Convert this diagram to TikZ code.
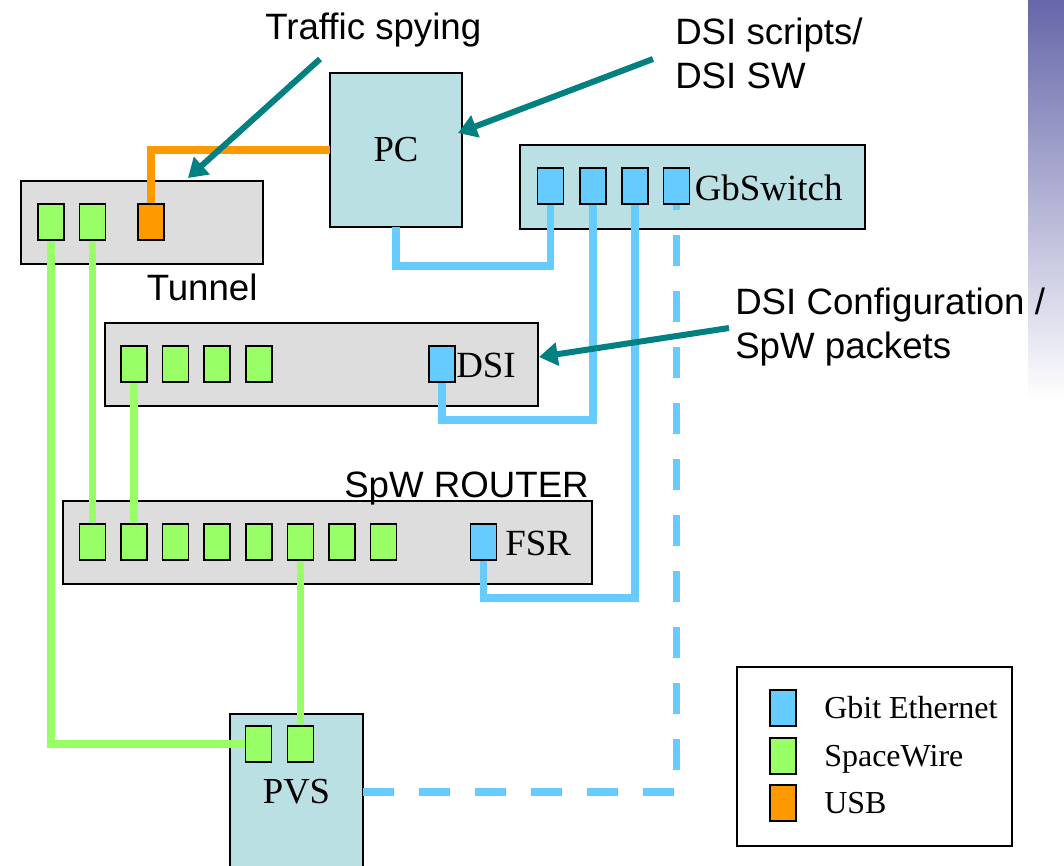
\documentclass[tikz,border=0pt]{standalone}
\usepackage{fontspec}
\setmainfont{Liberation Serif}
\setsansfont{Liberation Sans}
\usetikzlibrary{arrows.meta}
\definecolor{boxgray}{HTML}{DDDDDD}
\definecolor{boxteal}{HTML}{BBE0E3}
\definecolor{spw}{HTML}{99FF66}
\definecolor{gbe}{HTML}{66CCFF}
\definecolor{usb}{HTML}{FF9900}
\definecolor{callout}{HTML}{008080}
\definecolor{slidepurple}{HTML}{6666AA}
\begin{document}
\begin{tikzpicture}[x=0.75pt,y=-0.75pt,
  device/.style={draw=black,line width=1.5pt,inner sep=0pt,outer sep=0pt},
  graybox/.style={device,fill=boxgray},
  tealbox/.style={device,fill=boxteal,font=\rmfamily\fontsize{27.5}{33}\selectfont},
  port/.style={draw=black,line width=1.3pt,minimum width=19.5pt,minimum height=27pt,inner sep=0pt,outer sep=0pt},
  spwport/.style={port,fill=spw},
  gbeport/.style={port,fill=gbe},
  usbport/.style={port,fill=usb},
  cable/.style={line width=5.4pt},
  callarrow/.style={draw=callout,line width=4.5pt,-{Triangle[length=14pt,width=17pt]}},
  sanslabel/.style={font=\sffamily\fontsize{27.5}{33}\selectfont,inner sep=0pt,align=left},
  seriflabel/.style={font=\rmfamily\fontsize{27.7}{33}\selectfont,inner sep=0pt,anchor=base west},
  legendtext/.style={font=\rmfamily\fontsize{24}{29}\selectfont,inner sep=0pt,anchor=base west}]
\clip (0,0) rectangle (1064,865);
\fill[white] (0,0) rectangle (1064,865);
% slide background strip
\shade[top color=slidepurple,bottom color=white] (1028,0) rectangle (1064,400);

% devices
\node[graybox,minimum width=181.5pt,minimum height=62.25pt] (tunnel) at (142,222.5) {};
\node[tealbox,minimum width=99pt,minimum height=115.5pt] (pc) at (396,150) {PC};
\node[tealbox,minimum width=258.75pt,minimum height=63pt] (gbsw) at (692.5,187) {};
\node[graybox,minimum width=324.75pt,minimum height=62.25pt] (dsi) at (321.5,364.5) {};
\node[graybox,minimum width=396.75pt,minimum height=62.25pt] (router) at (327.5,542.5) {};
\node[tealbox,minimum width=99.75pt,minimum height=117pt] (pvs) at (296.5,792) {PVS};
\node[device,fill=white,minimum width=206.25pt,minimum height=134.25pt] (legend) at (874.5,756.5) {};

% port positions
\coordinate (ct1) at (51,222);  \coordinate (ct2) at (92.5,222); \coordinate (ctu) at (151,222);
\coordinate (cg1) at (550.5,186); \coordinate (cg2) at (593,186); \coordinate (cg3) at (635,186); \coordinate (cg4) at (676.5,186);
\coordinate (cd1) at (134,364); \coordinate (cd2) at (175.6,364); \coordinate (cd3) at (217.2,364); \coordinate (cd4) at (258.8,364); \coordinate (cde) at (442,364);
\coordinate (cre) at (483.5,542);
\coordinate (cp1) at (258.5,744); \coordinate (cp2) at (300.4,744);

\node[usbport] (tu) at (ctu) {};
\node[spwport] (t1) at (ct1) {};
\node[spwport] (t2) at (ct2) {};
\node[gbeport] (g1) at (cg1) {};
\node[gbeport] (g2) at (cg2) {};
\node[gbeport] (g3) at (cg3) {};
\node[gbeport] (g4) at (cg4) {};
\node[spwport] (d1) at (cd1) {};
\node[spwport] (d2) at (cd2) {};
\node[spwport] (d3) at (cd3) {};
\node[spwport] (d4) at (cd4) {};
\node[gbeport] (de) at (cde) {};
\foreach \i/\x in {1/92.5,2/134,3/175.6,4/217.2,5/258.8,6/300.4,7/341.9,8/383.5}
  \node[spwport] (r\i) at (\x,542) {};
\node[gbeport] (re) at (cre) {};
\node[spwport] (p1) at (cp1) {};
\node[spwport] (p2) at (cp2) {};

% cables
\draw[cable,usb] (pc.west) -| (tu.north);
\draw[cable,gbe] (pc.south) -- ++(0,39) -| (g1.south);
\draw[cable,gbe] (de.south) -- ++(0,38) -| (g2.south);
\draw[cable,gbe] (re.south) -- ++(0,38) -| (g3.south);
\draw[cable,gbe,dash pattern=on 23.25pt off 18.75pt] (pvs.east) -| (g4.south);
\draw[cable,spw] (t1.south) |- (p1.west);
\draw[cable,spw] (t2.south) -- (r1.north);
\draw[cable,spw] (d1.south) -- (r2.north);
\draw[cable,spw] (r6.south) -- (r6.south |- p2.north);

% redraw ports on top of cables
\foreach \n/\s in {tu/usbport,t1/spwport,t2/spwport,g1/gbeport,g2/gbeport,g3/gbeport,g4/gbeport,d1/spwport,d2/spwport,d3/spwport,d4/spwport,de/gbeport,re/gbeport,p1/spwport,p2/spwport,r1/spwport,r2/spwport,r3/spwport,r4/spwport,r5/spwport,r6/spwport,r7/spwport,r8/spwport}
  \path (\n.center) node[\s] {};

% labels
\node[seriflabel] (gbswlabel) at (694.5,200) {GbSwitch};
\node[seriflabel] (dsilabel) at (456,377) {DSI};
\node[seriflabel] (fsrlabel) at (505,555) {FSR};
\node[sanslabel,anchor=base west] (traffic) at (265,39) {Traffic spying};
\node[sanslabel,anchor=north west] (scripts) at (675,17.5) {DSI scripts/\\DSI SW};
\node[sanslabel,anchor=base west] (tunnellabel) at (146.5,300) {Tunnel};
\node[sanslabel,anchor=base east] (routerlabel) at (589,497) {SpW ROUTER};
\node[sanslabel,anchor=north west] (config) at (735,288) {DSI Configuration /\\SpW packets};

% legend
\node[gbeport] (l1) at (783,708) {};
\node[spwport] (l2) at (783,756) {};
\node[usbport] (l3) at (783,803) {};
\node[legendtext] (lt1) at (824,718) {Gbit Ethernet};
\node[legendtext] (lt2) at (824,766) {SpaceWire};
\node[legendtext] (lt3) at (824,813) {USB};

% callout arrows
\coordinate (a1s) at (320,59);  \coordinate (a1e) at (188,178);
\coordinate (a2s) at (653,59);  \coordinate (a2e) at (458,133);
\coordinate (a3s) at (729,328); \coordinate (a3e) at (539,357);
\draw[callarrow] (a1s) -- (a1e);
\draw[callarrow] (a2s) -- (a2e);
\draw[callarrow] (a3s) -- (a3e);
\end{tikzpicture}
\end{document}
